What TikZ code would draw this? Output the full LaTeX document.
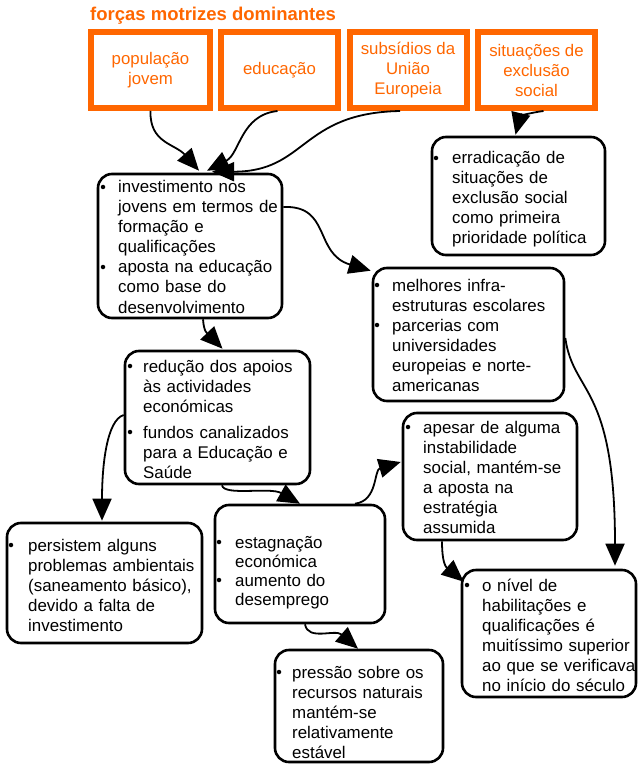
\documentclass[tikz,border=0pt]{standalone}
\usepackage{fontspec}
\setmainfont{Liberation Sans}
\usetikzlibrary{arrows.meta}
\definecolor{forceorange}{RGB}{255,102,0}
\begin{document}
\begin{tikzpicture}[x=1pt,y=-1pt,
  driver/.style={draw=forceorange, line width=6pt, minimum width=117pt, minimum height=76pt,
    inner sep=0, text=forceorange, align=center, font=\fontsize{16.8}{20}\selectfont},
  effect/.style={draw, line width=2.6pt, rounded corners=14pt, inner sep=0},
  body/.style={anchor=base west, inner sep=0, text width=230pt, align=left,
    font=\fontsize{16.9}{20}\selectfont},
  link/.style={line width=1.8pt, -{Triangle[length=22pt,width=19pt]}},
  dot/.style={fill, circle, inner sep=0, minimum size=4.5pt}
]
\useasboundingbox (0,0) rectangle (642,767);

% heading
\node[anchor=base west, inner sep=0, text=forceorange,
      font=\fontsize{18.5}{20}\selectfont\bfseries] (title) at (90,21) {forças motrizes dominantes};

% driving forces
\node[driver, minimum width=119pt] (P1) at (150.5,70) {população\\jovem};
\node[driver] (P2) at (279.5,70) {educação};
\node[driver] (P3) at (408,70) {subsídios da\\União\\Europeia};
\node[driver] (P4) at (536.5,70) {situações de\\exclusão\\social};

% consequence boxes
\node[effect, minimum width=184pt, minimum height=144pt] (A) at (190,246) {};
\node[effect, minimum width=173pt, minimum height=118pt] (B) at (518.5,196) {};
\node[effect, minimum width=191pt, minimum height=133pt] (C) at (468.5,334.5) {};
\node[effect, minimum width=185pt, minimum height=133pt] (D) at (217.5,417.5) {};
\node[effect, minimum width=174pt, minimum height=127pt] (E) at (490,476.5) {};
\node[effect, minimum width=195pt, minimum height=120pt] (F) at (104.5,583) {};
\node[effect, minimum width=170pt, minimum height=118pt] (G) at (300,564) {};
\node[effect, minimum width=168pt, minimum height=112pt] (H) at (359,706) {};
\node[effect, minimum width=174pt, minimum height=127pt] (I) at (549,633.5) {};

% box texts
\node[body] (At) at (118,193) {investimento nos\\jovens em termos de\\formação e\\qualificações\\aposta na educação\\como base do\\desenvolvimento};
\node[dot] (Ab1) at (103,187) {};
\node[dot] (Ab2) at (103,267) {};

\node[body] (Bt) at (452,164) {erradicação de\\situações de\\exclusão social\\como primeira\\prioridade política};
\node[dot] (Bb1) at (436,158) {};

\node[body] (Ct) at (392,291) {melhores infra-\\estruturas escolares\\parcerias com\\universidades\\europeias e norte-\\americanas};
\node[dot] (Cb1) at (377,285) {};
\node[dot] (Cb2) at (377,325) {};

\node[body] (Dt) at (143,372) {redução dos apoios\\às actividades\\económicas\\[6pt]fundos canalizados\\para a Educação e\\Saúde};
\node[dot] (Db1) at (130,366) {};
\node[dot] (Db2) at (130,432) {};

\node[body] (Et) at (423,433) {apesar de alguma\\instabilidade\\social, mantém-se\\a aposta na\\estratégia\\assumida};
\node[dot] (Eb1) at (408,427) {};

\node[body] (Ft) at (28,551) {persistem alguns\\problemas ambientais\\(saneamento básico),\\devido a falta de\\investimento};
\node[dot] (Fb1) at (11,545) {};

\node[body, font=\fontsize{16.9}{19}\selectfont] (Gt) at (235,548) {estagnação\\económica\\aumento do\\desemprego};
\node[dot] (Gb1) at (219,542) {};
\node[dot] (Gb2) at (219,580) {};

\node[body] (Ht) at (292,678) {pressão sobre os\\recursos naturais\\mantém-se\\relativamente\\estável};
\node[dot] (Hb1) at (279,672) {};

\node[body] (It) at (482,591) {o nível de\\habilitações e\\qualificações é\\muitíssimo superior\\ao que se verificava\\no início do século};
\node[dot] (Ib1) at (467,585) {};

% connectors
\draw[link] (P1.south) .. controls +(-1,32) and +(-24,-27) .. ([xshift=9pt,yshift=2pt]A.north);
\draw[link] ([xshift=-2pt]P2.south) .. controls +(-37,4) and +(33,-17) .. ([xshift=17pt,yshift=2pt]A.north);
\draw[link] ([xshift=-8pt]P3.south) .. controls +(-100,2) and +(95,0) .. ([xshift=22pt,yshift=1pt]A.north);
\draw[link] ([xshift=7pt]P4.south) .. controls +(-15.5,2) and +(4.5,-18) .. ([xshift=-3pt,yshift=1pt]B.north);
\draw[link] ([yshift=39pt]A.east) .. controls +(48,-2) and +(-57,-17) .. ([xshift=-1pt,yshift=-4pt]C.north west);
\draw[link] ([xshift=13pt]A.south) .. controls +(1,14) and +(-14.5,-15) .. ([xshift=5pt,yshift=1pt]D.north);
\draw[link] ([xshift=4.5pt]D.south) .. controls +(2,11) and +(-30,-17) .. (G.north);
\draw[link] ([yshift=2.5pt]D.west) .. controls +(-17,5) and +(0,-55) .. ([xshift=-2.5pt,yshift=1pt]F.north);
\draw[link] ([xshift=55pt]G.north) .. controls +(23,-3) and +(-27,8) .. ([xshift=-1pt,yshift=14.5pt]E.west);
\draw[link] ([xshift=-48pt]E.south) .. controls +(0,28) and +(-15,-13) .. ([xshift=3pt,yshift=-13pt]I.north west);
\draw[link] ([yshift=-3.5pt]C.east) .. controls +(8,57) and +(0,-182) .. ([xshift=66pt,yshift=3pt]I.north);
\draw[link] ([xshift=5pt]G.south) .. controls +(3,17) and +(-23,-20) .. ([xshift=-1pt]H.north);
\end{tikzpicture}
\end{document}
